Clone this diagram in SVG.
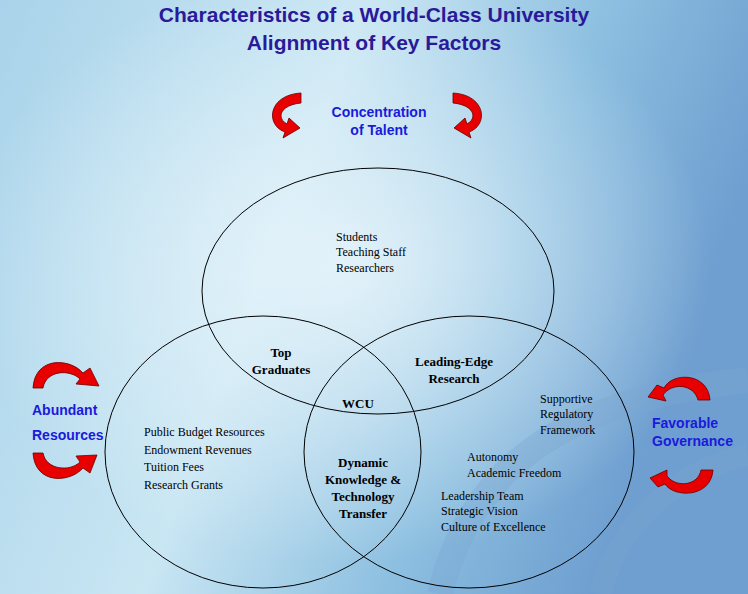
<svg xmlns="http://www.w3.org/2000/svg" width="748" height="594" viewBox="0 0 748 594">
<defs>
<linearGradient id="bg" x1="0" y1="0" x2="1" y2="0.3">
<stop offset="0" stop-color="#a9d3ea"/><stop offset="0.45" stop-color="#c9e6f3"/><stop offset="0.75" stop-color="#8cbfe0"/><stop offset="1" stop-color="#6f9fd0"/>
</linearGradient>
<radialGradient id="glow" cx="0.45" cy="0.45" r="0.5"><stop offset="0" stop-color="#e8f5fb" stop-opacity="0.9"/><stop offset="1" stop-color="#e8f5fb" stop-opacity="0"/></radialGradient>
</defs>
<style>
.t{font-family:"Liberation Sans",Arial,sans-serif;font-weight:bold;fill:#1a1adc}
.h{font-family:"Liberation Sans",Arial,sans-serif;font-weight:bold;fill:#2a1a9a;font-size:21px}
.s{font-family:"Liberation Serif","Times New Roman",serif;font-size:12px;fill:#000}
.b{font-family:"Liberation Serif","Times New Roman",serif;font-size:13px;font-weight:bold;fill:#000}
.c{fill:none;stroke:#000;stroke-width:1}
.ar{fill:#e80000;stroke:#600;stroke-width:0.8}
</style>
<rect width="748" height="594" fill="url(#bg)"/>
<rect width="748" height="594" fill="url(#glow)"/>
<path d="M440,594 C470,470 560,400 748,380" fill="none" stroke="#7aa6d0" stroke-opacity="0.35" stroke-width="26"/>
<path d="M600,594 C620,520 680,470 748,455" fill="none" stroke="#7aa6d0" stroke-opacity="0.3" stroke-width="22"/>
<text class="h" x="374" y="22" text-anchor="middle">Characteristics of a World-Class University</text>
<text class="h" x="374" y="50" text-anchor="middle">Alignment of Key Factors</text>
<g id="arrows">
<path class="ar" d="M301,93 C268,95 265,125 285,132 L283,138 L300,128 L289,118 L287,124 C276,118 280,105 301,103 Z"/>
<path class="ar" d="M453,93 C486,95 489,125 469,132 L471,138 L454,128 L465,118 L467,124 C478,118 474,105 453,103 Z"/>
<path class="ar" d="M33,388 C35,356 70,358 83,373 L90,368 L99,386 L76,384 L80,379 C70,369 46,370 43,388 Z"/>
<path class="ar" d="M33,453 C35,485 70,483 83,468 L90,473 L97,455 L76,456 L80,462 C70,472 46,470 43,453 Z"/>
<path class="ar" d="M710,400 C708,372 672,372 664,388 L657,385 L648,397 L666,401 L663,395 C672,382 694,384 698,400 Z"/>
<path class="ar" d="M713,470 C711,498 674,498 665,484 L658,487 L650,478 L667,470 L667,476 C676,488 698,486 701,470 Z"/>
</g>
<g id="labels">
<text class="t" font-size="14" x="379" y="117" text-anchor="middle">Concentration</text>
<text class="t" font-size="14" x="379" y="135" text-anchor="middle">of Talent</text>
<text class="t" font-size="14" x="32" y="415">Abundant</text>
<text class="t" font-size="14" x="32" y="440">Resources</text>
<text class="t" font-size="14" x="652" y="428">Favorable</text>
<text class="t" font-size="14" x="652" y="446">Governance</text>
</g>
<g id="connectors"></g>
<g id="talent"><ellipse class="c" cx="378" cy="291" rx="176" ry="123"/>
<text class="s" x="336" y="241">Students</text><text class="s" x="336" y="256">Teaching Staff</text><text class="s" x="336" y="272">Researchers</text></g>
<g id="resources"><ellipse class="c" cx="263" cy="452" rx="158" ry="136"/>
<text class="s" x="144" y="436">Public Budget Resources</text><text class="s" x="144" y="454">Endowment Revenues</text><text class="s" x="144" y="471">Tuition Fees</text><text class="s" x="144" y="489">Research Grants</text></g>
<g id="governance"><ellipse class="c" cx="469" cy="452" rx="165" ry="136"/>
<text class="s" x="540" y="403">Supportive</text><text class="s" x="540" y="418">Regulatory</text><text class="s" x="540" y="434">Framework</text>
<text class="s" x="467" y="461">Autonomy</text><text class="s" x="467" y="477">Academic Freedom</text>
<text class="s" x="441" y="500">Leadership Team</text><text class="s" x="441" y="515">Strategic Vision</text><text class="s" x="441" y="531">Culture of Excellence</text></g>
<g id="overlaps">
<text class="b" x="281" y="357" text-anchor="middle">Top</text><text class="b" x="281" y="374" text-anchor="middle">Graduates</text>
<text class="b" x="454" y="366" text-anchor="middle">Leading-Edge</text><text class="b" x="454" y="383" text-anchor="middle">Research</text>
<text class="b" x="358" y="408" text-anchor="middle" font-size="16">WCU</text>
<text class="b" x="363" y="467" text-anchor="middle">Dynamic</text><text class="b" x="363" y="484" text-anchor="middle">Knowledge &amp;</text><text class="b" x="363" y="501" text-anchor="middle">Technology</text><text class="b" x="363" y="518" text-anchor="middle">Transfer</text>
</g>
</svg>
